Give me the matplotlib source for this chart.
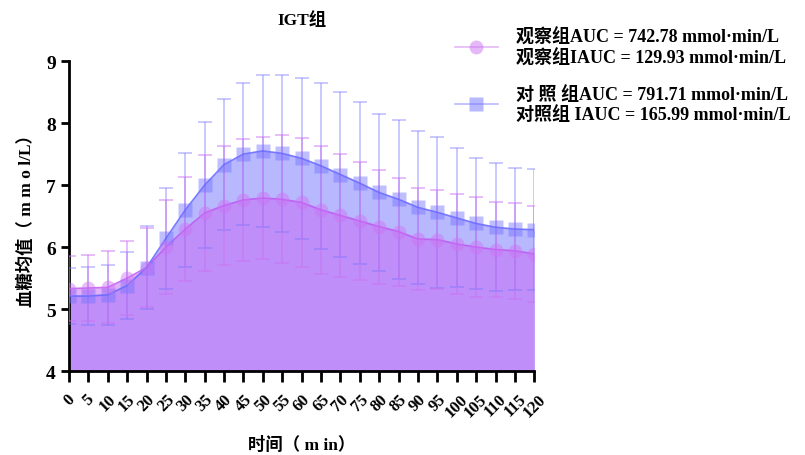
import matplotlib
matplotlib.use('Agg')
import matplotlib.pyplot as plt
from matplotlib.lines import Line2D

# time points (min)
time = [0, 5, 10, 15, 20, 25, 30, 35, 40, 45, 50, 55, 60, 65, 70, 75, 80,
        85, 90, 95, 100, 105, 110, 115, 120]

# observation group (mean, SD)
obs_mean = [5.33, 5.34, 5.35, 5.50, 5.67, 6.00, 6.29, 6.55, 6.67, 6.76, 6.79, 6.77,
            6.72, 6.60, 6.51, 6.42, 6.33, 6.25, 6.13, 6.12, 6.05, 6.00, 5.96, 5.94, 5.89]
obs_sd = [0.53, 0.53, 0.58, 0.59, 0.64, 0.76, 0.84, 0.94, 0.96, 0.98, 0.99, 1.03,
          1.04, 1.03, 0.99, 0.95, 0.92, 0.87, 0.83, 0.80, 0.80, 0.81, 0.76, 0.77, 0.78]

# control group (mean, SD)
ctl_mean = [5.21, 5.21, 5.23, 5.38, 5.67, 6.14, 6.60, 7.00, 7.33, 7.50, 7.55, 7.51,
            7.43, 7.31, 7.17, 7.03, 6.88, 6.77, 6.64, 6.56, 6.47, 6.38, 6.32, 6.29, 6.28]
ctl_sd = [0.45, 0.47, 0.48, 0.54, 0.67, 0.82, 0.92, 1.02, 1.05, 1.14, 1.22, 1.26,
          1.30, 1.34, 1.33, 1.31, 1.27, 1.28, 1.23, 1.22, 1.12, 1.05, 1.03, 0.99, 0.98]

obs_label = '观察组AUC = 742.78 mmol·min/L\n观察组IAUC = 129.93 mmol·min/L'
ctl_label = '对 照 组AUC = 791.71 mmol·min/L\n对照组 IAUC = 165.99 mmol·min/L'

fonts = ['Liberation Serif', 'Noto Sans CJK SC']
plt.rcParams['font.family'] = fonts
plt.rcParams['font.weight'] = 'bold'

blue = (0.45, 0.45, 1.0)
pink = (0.80, 0.45, 0.95)

fig = plt.figure(figsize=(8.05, 4.56), dpi=100)
ax = fig.add_axes([0.0857, 0.184, 0.578, 0.680])

# area fills
ax.fill_between(time, ctl_mean, 4, color=blue, alpha=0.5, lw=0, zorder=1)
ax.fill_between(time, obs_mean, 4, color=(0.78, 0.40, 0.95), alpha=0.5, lw=0, zorder=2)

# control group
ax.errorbar(time, ctl_mean, yerr=ctl_sd, color=blue, alpha=0.45, lw=1.2,
            capsize=5, capthick=1.2, fmt='none', zorder=3)
ax.plot(time, ctl_mean, color=(0.35, 0.35, 1.0), lw=1.2, alpha=0.8, zorder=4)
ax.plot(time, ctl_mean, 's', ms=10, color=blue, alpha=0.45, mec='none', zorder=5)

# observation group
ax.errorbar(time, obs_mean, yerr=obs_sd, color=pink, alpha=0.55, lw=1.2,
            capsize=5, capthick=1.2, fmt='none', zorder=3)
ax.plot(time, obs_mean, color=(0.75, 0.3, 0.95), lw=1.2, alpha=0.8, zorder=4)
ax.plot(time, obs_mean, 'o', ms=10, color=pink, alpha=0.45, mec='none', zorder=5)

# legend
lh1 = Line2D([], [], marker='o', ms=10, color=pink, alpha=0.5, mec='none', lw=1.2)
lh2 = Line2D([], [], marker='s', ms=10, color=blue, alpha=0.5, mec='none', lw=1.2)
fig.legend([lh1, lh2], [obs_label, ctl_label], loc='upper left',
           bbox_to_anchor=(0.565, 0.938), frameon=False, borderpad=0,
           borderaxespad=0, handlelength=2.4, handletextpad=1.0, labelspacing=1.0,
           prop={'family': fonts, 'weight': 'bold', 'size': 13})

ax.set_xlim(0, 120)
ax.set_ylim(4, 9)
ax.set_xticks(time)
ax.set_xticklabels([str(t) for t in time], rotation=45, ha='center',
                   fontsize=12, fontweight='bold')
ax.set_yticks([4, 5, 6, 7, 8, 9])
ax.tick_params(axis='y', labelsize=14, width=2, length=6)
ax.tick_params(axis='x', width=2, length=8, pad=6)
for lab in ax.get_yticklabels():
    lab.set_fontweight('bold')

for s in ['top', 'right']:
    ax.spines[s].set_visible(False)
for s in ['left', 'bottom']:
    ax.spines[s].set_linewidth(2)

ax.set_title('IGT组', fontsize=12.5, fontweight='bold', pad=27)
ax.set_xlabel('时间（ m in）', fontsize=12.5, fontweight='bold', labelpad=12)
ax.set_ylabel('血糖均值（ m m o l/L）', fontsize=12.5, fontweight='bold', labelpad=8)

fig.savefig('out.png', dpi=100)
